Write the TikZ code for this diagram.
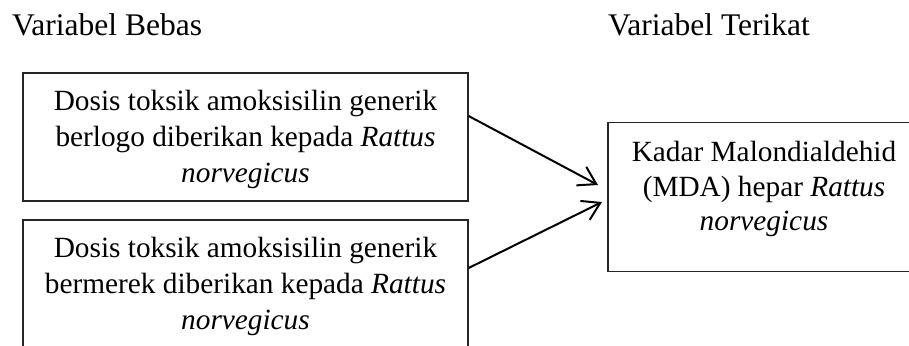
\documentclass[tikz,border=0pt]{standalone}
\usepackage{fontspec}
\setmainfont{Liberation Serif}
\usetikzlibrary{arrows.meta}
\begin{document}
\begin{tikzpicture}[x=1pt,y=-1pt,
  frame/.style={draw=black!85, line width=1.3pt, rectangle, inner sep=0pt},
  boxtext/.style={align=center, inner sep=0pt, anchor=north,
    font=\fontsize{29.3}{36}\selectfont},
  heading/.style={inner sep=0pt, anchor=base west,
    font=\fontsize{31.5}{36}\selectfont},
  link/.style={line width=2pt, -{Straight Barb[length=17pt,width=21pt,line width=2pt]}}]
\clip (0,0) rectangle (909,345);
\fill[white] (0,0) rectangle (909,345);

% column headings
\node[heading] (hb) at (12,36) {Variabel Bebas};
\node[heading] (ht) at (608,36) {Variabel Terikat};

% independent variables
\node[frame, minimum width=445pt, minimum height=128pt] (b1) at (245.5,137) {};
\node[boxtext] (b1t) at (245.5,90) {Dosis toksik amoksisilin generik\\berlogo diberikan kepada \textit{Rattus}\\\textit{norvegicus}};

\node[frame, minimum width=445pt, minimum height=128pt] (b2) at (245.5,284) {};
\node[boxtext] (b2t) at (245.5,237) {Dosis toksik amoksisilin generik\\bermerek diberikan kepada \textit{Rattus}\\\textit{norvegicus}};

% dependent variable
\node[frame, minimum width=312pt, minimum height=149pt] (tv) at (764,197) {};
\node[boxtext, font=\fontsize{29.3}{34.5}\selectfont] (tvt) at (764,141) {Kadar Malondialdehid\\(MDA) hepar \textit{Rattus}\\\textit{norvegicus}};

% connectors
\coordinate (tip1) at (598,185);
\coordinate (tip2) at (602,202);
\draw[link] ([yshift=21pt]b1.east) -- (tip1);
\draw[link] ([yshift=16pt]b2.east) -- (tip2);
\end{tikzpicture}
\end{document}
